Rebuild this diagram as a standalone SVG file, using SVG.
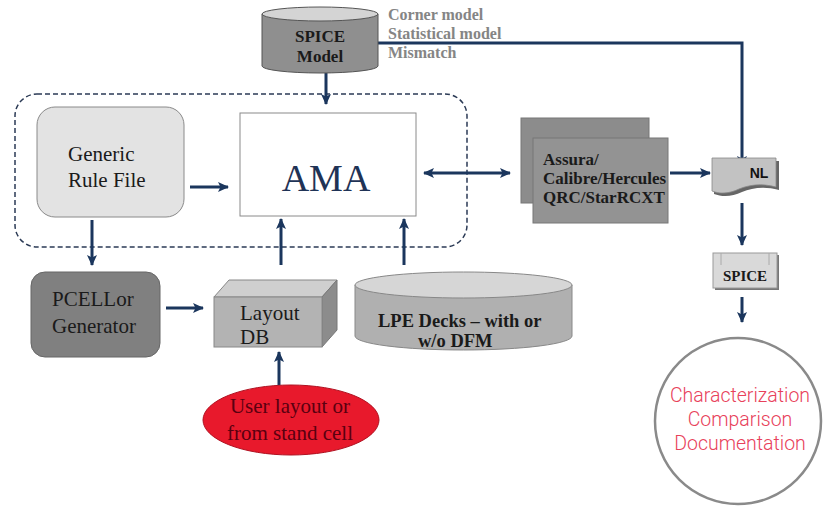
<svg xmlns="http://www.w3.org/2000/svg" width="823" height="506" viewBox="0 0 823 506">
<style>
.serif{font-family:"Liberation Serif","Times New Roman",serif}
.lbl{font-family:"Liberation Serif",serif;font-size:21px;fill:#1a1a1a}
.bold{font-family:"Liberation Serif",serif;font-weight:bold;font-size:17px;fill:#1a1a1a}
.note{font-family:"Liberation Serif",serif;font-weight:bold;font-size:16px;fill:#858585}
.conn{stroke:#1b365d;stroke-width:3;fill:none}
.red{font-family:Roboto,"Liberation Sans",sans-serif;font-size:19.5px;fill:#e8415a;font-weight:300}
</style>
<defs>
<marker id="ah" markerUnits="userSpaceOnUse" markerWidth="12" markerHeight="12" viewBox="0 0 12 12" refX="10" refY="6" orient="auto-start-reverse">
<path d="M0,1 L11,6 L0,11 L2.5,6 Z" fill="#1b365d"/>
</marker>
</defs>
<rect width="823" height="506" fill="#ffffff"/>

<!-- dashed container -->
<rect x="15" y="94" width="452" height="153" rx="22" fill="none" stroke="#2b3a55" stroke-width="1.5" stroke-dasharray="5,3"/>

<g id="connectors">
<path class="conn" d="M378,43 H742 V166" marker-end="url(#ah)"/>
<path class="conn" d="M326,73 V104" marker-end="url(#ah)"/>
<path class="conn" d="M190,187 H228" marker-end="url(#ah)"/>
<path class="conn" d="M92,220 V265" marker-end="url(#ah)"/>
<path class="conn" d="M281,265 V219" marker-end="url(#ah)"/>
<path class="conn" d="M404,265 V219" marker-end="url(#ah)"/>
<path class="conn" d="M424,173 H510" marker-start="url(#ah)" marker-end="url(#ah)"/>
<path class="conn" d="M670,173 H710" marker-end="url(#ah)"/>
<path class="conn" d="M742,203 V245" marker-end="url(#ah)"/>
<path class="conn" d="M742,297 V322" marker-end="url(#ah)"/>
<path class="conn" d="M166,308 H203" marker-end="url(#ah)"/>
<path class="conn" d="M279,385 V352" marker-end="url(#ah)"/>
</g>

<g id="spice-model">
<path d="M262,14 V66 A58,7 0 0 0 378,66 V14" fill="#8f8f8f" stroke="#555" stroke-width="1"/>
<ellipse cx="320" cy="14" rx="58" ry="7" fill="#d4d4d4" stroke="#555" stroke-width="1"/>
<text class="serif" x="320" y="42" text-anchor="middle" font-weight="bold" font-size="17" fill="#1a1a1a">SPICE</text>
<text class="serif" x="320" y="62" text-anchor="middle" font-weight="bold" font-size="17" fill="#1a1a1a">Model</text>
</g>

<g id="model-notes">
<text class="note" x="388" y="20">Corner model</text>
<text class="note" x="388" y="39">Statistical model</text>
<text class="note" x="388" y="58">Mismatch</text>
</g>

<g id="generic-rule-file">
<rect x="37" y="107" width="147" height="110" rx="18" fill="#e3e3e3" stroke="#8a8a8a" stroke-width="1"/>
<text class="lbl" x="68" y="161">Generic</text>
<text class="lbl" x="68" y="187">Rule File</text>
</g>

<g id="ama">
<rect x="240" y="113" width="176" height="103" fill="#ffffff" stroke="#8a8a8a" stroke-width="1"/>
<text class="serif" x="326" y="191" text-anchor="middle" font-size="38" fill="#1f3356">AMA</text>
</g>

<g id="assura">
<rect x="521" y="118" width="128" height="85" fill="#8c8c8c" stroke="#777" stroke-width="1"/>
<rect x="533" y="138" width="135" height="85" fill="#939393" stroke="#777" stroke-width="1"/>
<text class="bold" x="543" y="165">Assura/</text>
<text class="bold" x="543" y="184">Calibre/Hercules</text>
<text class="bold" x="543" y="203">QRC/StarRCXT</text>
</g>

<g id="nl">
<path d="M714,161 L779,161 L779,190 C764,186 752,188 742,192 C732,197 722,197 714,194 Z" fill="#666"/>
<path d="M712,158 L776,158 L776,187 C761,183 749,185 739,189 C729,194 719,194 712,191 Z" fill="#c2c2c2" stroke="#888" stroke-width="0.8"/>
<text x="759" y="178" text-anchor="middle" font-family="Liberation Sans,Arial,sans-serif" font-weight="bold" font-size="14" fill="#111">NL</text>
</g>

<g id="spice">
<rect x="715" y="255" width="64" height="35" fill="#777"/>
<rect x="713" y="253" width="64" height="35" fill="#d9d9d9" stroke="#999" stroke-width="1"/>
<line x1="721" y1="253" x2="721" y2="265" stroke="#aaa" stroke-width="1"/>
<line x1="769" y1="253" x2="769" y2="265" stroke="#aaa" stroke-width="1"/>
<text class="serif" x="745" y="281" text-anchor="middle" font-weight="bold" font-size="15" fill="#1a1a1a">SPICE</text>
</g>

<g id="characterization">
<circle cx="738" cy="421" r="83" fill="#ffffff" stroke="#8a8a8a" stroke-width="2.5"/>
<text class="red" x="740" y="402" text-anchor="middle">Characterization</text>
<text class="red" x="740" y="426" text-anchor="middle">Comparison</text>
<text class="red" x="740" y="450" text-anchor="middle">Documentation</text>
</g>

<g id="pcell">
<rect x="31" y="272" width="129" height="85" rx="14" fill="#808080" stroke="#666" stroke-width="1"/>
<text class="lbl" x="52" y="306">PCELLor</text>
<text class="lbl" x="52" y="333">Generator</text>
</g>

<g id="layout-db">
<path d="M214,297 L229,280 L337,280 L322,297 Z" fill="#cfcfcf" stroke="#888" stroke-width="1"/>
<path d="M322,297 L337,280 L337,330 L322,347 Z" fill="#8c8c8c" stroke="#777" stroke-width="1"/>
<rect x="214" y="297" width="108" height="50" fill="#b3b3b3" stroke="#888" stroke-width="1"/>
<text class="lbl" x="240" y="320">Layout</text>
<text class="lbl" x="240" y="344">DB</text>
</g>

<g id="lpe-decks">
<path d="M355,285 V336 A108.5,14 0 0 0 572,336 V285" fill="#b0b0b0" stroke="#888" stroke-width="1"/>
<ellipse cx="463.5" cy="285" rx="108.5" ry="13" fill="#d6d6d6" stroke="#888" stroke-width="1"/>
<text class="bold" x="378" y="327" style="font-size:18.5px">LPE Decks – with or</text>
<text class="bold" x="418" y="347" style="font-size:18.5px">w/o DFM</text>
</g>

<g id="user-layout">
<ellipse cx="291" cy="420" rx="88" ry="35" fill="#e8192c" stroke="#b01020" stroke-width="1"/>
<text class="lbl" x="290" y="413" text-anchor="middle" style="fill:#5a0010">User layout or</text>
<text class="lbl" x="290" y="440" text-anchor="middle" style="fill:#5a0010">from stand cell</text>
</g>
</svg>
